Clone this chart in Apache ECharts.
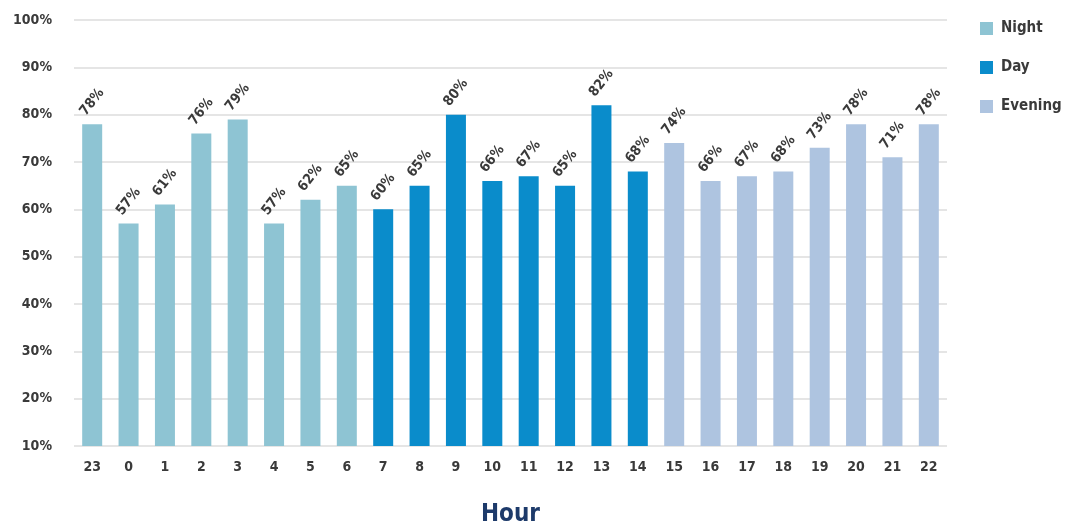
<!DOCTYPE html>
<html>
<head>
<meta charset="utf-8">
<script src="https://cdn.jsdelivr.net/npm/echarts@6/dist/echarts.min.js"></script>
<style>
  html, body { margin: 0; padding: 0; background: #fff; }
  #chart { width: 1065px; height: 525px; }
</style>
</head>
<body>
<div id="chart"></div>
<script>
// Hour of day, starting the night shift at 23
const hours = ['23','0','1','2','3','4','5','6','7','8','9','10','11','12','13','14','15','16','17','18','19','20','21','22'];
// Share (%) per hour, split by shift
const night   = [78, 57, 61, 76, 79, 57, 62, 65, null, null, null, null, null, null, null, null, null, null, null, null, null, null, null, null];
const day     = [null, null, null, null, null, null, null, null, 60, 65, 80, 66, 67, 65, 82, 68, null, null, null, null, null, null, null, null];
const evening = [null, null, null, null, null, null, null, null, null, null, null, null, null, null, null, null, 74, 66, 67, 68, 73, 78, 71, 78];
const yTicks = [10, 100, 10]; // min, max, step

const FONT = '"Liberation Sans Narrow", "DejaVu Sans Condensed", sans-serif';
const TEXT = '#3a3a3a';

const labelStyle = {
  show: true,
  position: 'top',
  rotate: 52,
  align: 'center',
  verticalAlign: 'middle',
  distance: 22,
  formatter: p => p.value + '%',
  fontFamily: FONT,
  fontSize: 14,
  fontWeight: 'bold',
  color: TEXT
};

function barSeries(name, data, color) {
  return {
    name,
    type: 'bar',
    stack: 'hour',
    data,
    barWidth: 20,
    itemStyle: { color },
    label: labelStyle
  };
}

const chart = echarts.init(document.getElementById('chart'), null, { renderer: 'canvas' });
chart.setOption({
  animation: false,
  textStyle: { fontFamily: FONT },
  grid: { left: 74, right: 118, top: 20, bottom: 79, containLabel: false, outerBoundsMode: 'none' },
  legend: {
    orient: 'vertical',
    left: 975,
    top: 16,
    itemGap: 24,
    itemWidth: 13,
    itemHeight: 13,
    icon: 'rect',
    textStyle: { fontFamily: FONT, fontSize: 15, fontWeight: 'bold', color: TEXT, padding: [0, 0, 0, 3] },
    data: ['Night', 'Day', 'Evening']
  },
  xAxis: {
    type: 'category',
    data: hours,
    name: 'Hour',
    nameLocation: 'middle',
    nameGap: 57,
    nameTextStyle: { fontFamily: FONT, fontSize: 24, fontWeight: 'bold', color: '#1d3a6a' },
    axisLine: { show: false },
    axisTick: { show: false },
    axisLabel: { margin: 14, fontFamily: FONT, fontSize: 14, fontWeight: 'bold', color: TEXT }
  },
  yAxis: {
    type: 'value',
    min: yTicks[0],
    max: yTicks[1],
    interval: yTicks[2],
    axisLine: { show: false },
    axisTick: { show: false },
    axisLabel: { margin: 22, formatter: '{value}%', fontFamily: FONT, fontSize: 14, fontWeight: 'bold', color: TEXT },
    splitLine: { lineStyle: { color: '#dcdcdc', width: 1.5 } }
  },
  series: [
    barSeries('Night', night, '#8ec4d3'),
    barSeries('Day', day, '#0a8ccb'),
    barSeries('Evening', evening, '#aec4e0')
  ]
});
</script>
</body>
</html>
